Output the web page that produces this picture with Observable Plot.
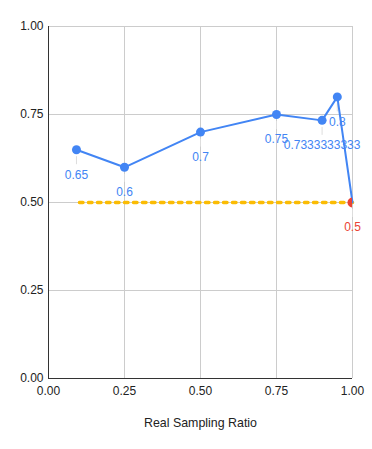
<!DOCTYPE html>
<html>
<head>
<meta charset="utf-8">
<script src="https://cdn.jsdelivr.net/npm/d3@7"></script>
<script src="https://cdn.jsdelivr.net/npm/@observablehq/plot@0.6"></script>
<style>
  html, body { margin: 0; padding: 0; background: #fff; }
  #chart svg { display: block; }
</style>
</head>
<body>
<div id="chart"></div>
<script>
// Data
const ratios = [0.092, 0.25, 0.5, 0.75, 0.9, 0.95, 1.0];
const scores = [0.65, 0.6, 0.7, 0.75, 0.7333333333, 0.8, 0.5];
const baselineValue = 0.5;
const xTicks = [0, 0.25, 0.5, 0.75, 1];
const yTicks = [0, 0.25, 0.5, 0.75, 1];
const xTitle = "Real Sampling Ratio";

const points = ratios.map((x, i) => ({x, y: scores[i], label: String(scores[i]), last: i === ratios.length - 1}));
const bluePts = points.filter(d => !d.last);
const redPts = points.filter(d => d.last);
const baseline = [
  {x: ratios[0], y: baselineValue},
  {x: ratios[ratios.length - 1], y: baselineValue}
];

const BLUE = "#4285f4", RED = "#ea4335", ORANGE = "#fbbc04";
const FONT = "'Liberation Sans', Arial, sans-serif";

const chart = Plot.plot({
  width: 372,
  height: 449,
  marginTop: 26,
  marginBottom: 71,
  marginLeft: 48,
  marginRight: 20,
  style: {fontFamily: FONT, fontSize: "12px", color: "#222", background: "#fff"},
  x: {domain: [0, 1]},
  y: {domain: [0, 1]},
  marks: [
    Plot.gridX(xTicks, {stroke: "#cccccc", strokeOpacity: 1}),
    Plot.gridY(yTicks, {stroke: "#cccccc", strokeOpacity: 1}),
    Plot.axisX(xTicks, {tickSize: 0, tickPadding: 8, tickFormat: d3.format(".2f"), label: null, fill: "#222", fontSize: 12}),
    Plot.axisY(yTicks, {tickSize: 0, tickPadding: 5, tickFormat: d3.format(".2f"), label: null, fill: "#222", fontSize: 12}),
    Plot.ruleX([0], {stroke: "#333"}),
    Plot.ruleY([0], {stroke: "#333"}),
    // faint leader lines below points
    Plot.ruleX(points, {x: "x", y1: "y", y2: "y", insetTop: 7, insetBottom: -15, stroke: "#dddddd", strokeWidth: 1}),
    Plot.line(baseline, {x: "x", y: "y", stroke: ORANGE, strokeWidth: 3.5, strokeDasharray: "3.5,5.5", strokeDashoffset: -3}),
    Plot.line(points, {x: "x", y: "y", stroke: BLUE, strokeWidth: 2}),
    Plot.dot(bluePts, {x: "x", y: "y", r: 4.5, fill: BLUE, stroke: null}),
    Plot.dot(redPts, {x: "x", y: "y", r: 5, fill: RED, stroke: null, clip: true}),
    Plot.text(bluePts, {x: "x", y: "y", text: "label", dy: 25, fill: BLUE, fontSize: 12}),
    Plot.text(redPts, {x: "x", y: "y", text: "label", dy: 25, fill: RED, fontSize: 12}),
    Plot.text([xTitle], {frameAnchor: "bottom", dy: 48, text: d => d, fill: "#222", fontSize: 12.4})
  ]
});
document.getElementById("chart").appendChild(chart);
</script>
</body>
</html>
